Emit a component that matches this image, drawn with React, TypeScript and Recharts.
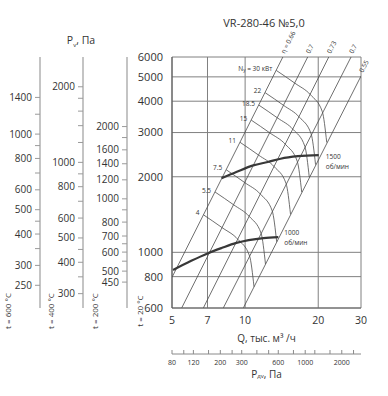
import React from "react";
import { CartesianGrid, LabelList, Line, LineChart, XAxis, YAxis } from "recharts";

const FONT = '"Open Sans", "DejaVu Sans", sans-serif';
const INK = "#333333";
const GRID = "#808080";
const MESH = "#4a4a4a";
const CURVE = "#383838";
const SCALE = "#c4c4c4";

// main axes (t = 20 °C)
const qTicks = [5, 7, 10, 20, 30];
const pTicks = [600, 800, 1000, 2000, 3000, 4000, 5000, 6000];

// side pressure scales for hot air
const t200Ticks = [450, 500, 550, 600, 650, 700, 800, 900, 1000, 1200, 1400, 1600, 1800, 2000];
const t200Labels = [450, 500, 600, 700, 800, 1000, 1200, 1400, 1600, 2000];
const t400Ticks = [300, 350, 400, 450, 500, 600, 700, 800, 900, 1000, 1200, 1400, 1600, 1800, 2000];
const t400Labels = [300, 400, 500, 600, 800, 1000, 2000];
const t600Ticks = [250, 300, 350, 400, 450, 500, 600, 700, 800, 900, 1000, 1200, 1400];
const t600Labels = [250, 300, 400, 500, 600, 800, 1000, 1400];

// dynamic pressure scale under the chart
const pdvTicks = [80, 100, 120, 160, 200, 250, 300, 400, 500, 600, 800, 1000, 1200, 1600, 2000, 2500];
const pdvLabels = [80, 120, 200, 300, 600, 1000, 2000];

type Pt = { q: number; p: number };

// fan curves
const rpm1500: Pt[] = [
  { q: 8.0, p: 1975 },
  { q: 9.2, p: 2090 },
  { q: 10.8, p: 2220 },
  { q: 12.4, p: 2290 },
  { q: 14.0, p: 2360 },
  { q: 16.5, p: 2415 },
  { q: 20.1, p: 2440 },
];
const rpm1000: Pt[] = [
  { q: 5.05, p: 850 },
  { q: 6.0, p: 925 },
  { q: 7.0, p: 990 },
  { q: 8.0, p: 1040 },
  { q: 9.2, p: 1090 },
  { q: 11.9, p: 1140 },
  { q: 13.7, p: 1150 },
];

// efficiency rays
const eta066: Pt[] = [{ q: 5, p: 795 }, { q: 14.3, p: 6000 }];
const eta070a: Pt[] = [{ q: 5.48, p: 600 }, { q: 18.1, p: 6000 }];
const eta073: Pt[] = [{ q: 6.73, p: 600 }, { q: 22.1, p: 6000 }];
const eta070b: Pt[] = [{ q: 8.13, p: 600 }, { q: 27.3, p: 6000 }];
const eta055: Pt[] = [{ q: 9.83, p: 600 }, { q: 30, p: 5036 }];

// shaft power lines, kW
const n4: Pt[] = [{ q: 6.74, p: 1410 }, { q: 8.04, p: 1254 }, { q: 9.34, p: 1126 }, { q: 10.43, p: 967 }, { q: 10.88, p: 729 }];
const n5_5: Pt[] = [{ q: 7.52, p: 1739 }, { q: 8.97, p: 1546 }, { q: 10.41, p: 1388 }, { q: 11.63, p: 1192 }, { q: 12.13, p: 898 }];
const n7_5: Pt[] = [{ q: 8.36, p: 2132 }, { q: 9.97, p: 1895 }, { q: 11.58, p: 1702 }, { q: 12.93, p: 1462 }, { q: 13.49, p: 1101 }];
const n11: Pt[] = [{ q: 9.53, p: 2743 }, { q: 11.37, p: 2438 }, { q: 13.2, p: 2189 }, { q: 14.74, p: 1881 }, { q: 15.38, p: 1417 }];
const n15: Pt[] = [{ q: 10.6, p: 3362 }, { q: 12.65, p: 2989 }, { q: 14.69, p: 2685 }, { q: 16.39, p: 2306 }, { q: 17.1, p: 1737 }];
const n18_5: Pt[] = [{ q: 11.39, p: 3859 }, { q: 13.59, p: 3431 }, { q: 15.78, p: 3083 }, { q: 17.61, p: 2647 }, { q: 18.37, p: 1994 }];
const n22: Pt[] = [{ q: 12.09, p: 4325 }, { q: 14.42, p: 3846 }, { q: 16.74, p: 3452 }, { q: 18.69, p: 2967 }, { q: 19.5, p: 2235 }];
const n30: Pt[] = [{ q: 13.44, p: 5304 }, { q: 16.04, p: 4716 }, { q: 18.62, p: 4234 }, { q: 20.78, p: 3638 }, { q: 21.68, p: 2739 }];

const etaLines = [
  { name: "η = 0.66", pts: eta066 },
  { name: "0.7", pts: eta070a },
  { name: "0.73", pts: eta073 },
  { name: "0.7 ", pts: eta070b },
  { name: "0.55", pts: eta055 },
];

const powerLines = [
  { name: "4", pts: n4 },
  { name: "5.5", pts: n5_5 },
  { name: "7.5", pts: n7_5 },
  { name: "11", pts: n11 },
  { name: "15", pts: n15 },
  { name: "18.5", pts: n18_5 },
  { name: "22", pts: n22 },
  { name: "30", pts: n30 },
];

const small = { fontFamily: FONT, fontSize: 6.5, fill: INK };

function pos(props: any) {
  const vb = props.viewBox || {};
  return { x: vb.x ?? props.x, y: vb.y ?? props.y };
}

function tempCaption(text: string) {
  return (props: any) => {
    const vb = props.viewBox;
    const x = vb.x + vb.width - 33;
    const y = 311;
    return (
      <text x={x} y={y} transform={`rotate(-90 ${x} ${y})`} textAnchor="middle" dominantBaseline="central"
        style={{ fontFamily: FONT, fontSize: 8, fill: INK }}>
        {text}
      </text>
    );
  };
}

function sideAxis(id: string, width: number, domain: number[], ticks: number[], labels: number[], caption: string) {
  return (
    <YAxis
      yAxisId={id}
      orientation="left"
      type="number"
      scale="log"
      domain={domain}
      allowDataOverflow
      ticks={ticks}
      interval={0}
      width={width}
      tickSize={5}
      tickMargin={3}
      axisLine={{ stroke: SCALE, strokeWidth: 2 }}
      tickLine={{ stroke: "#9a9a9a" }}
      tick={{ fontFamily: FONT, fontSize: 10, fill: INK }}
      tickFormatter={(v: number) => (labels.includes(v) ? String(v) : "")}
      label={{ content: tempCaption(caption) }}
    />
  );
}

function renderPdvTick(props: any) {
  const { x, y, payload, index } = props;
  const v = payload.value;
  return (
    <g key={`pdv-${index}`}>
      <line x1={x} x2={x} y1={y} y2={y - 4} stroke="#8a8a8a" />
      {pdvLabels.includes(v) && (
        <text x={x} y={y + 8.5} textAnchor="middle" dominantBaseline="central" style={{ fontFamily: FONT, fontSize: 7, fill: INK }}>
          {v}
        </text>
      )}
    </g>
  );
}

export default function App() {
  return (
    <div style={{ position: "absolute", left: 0, top: 0, width: 388, height: 396, background: "#fff" }}>
      <div style={{ position: "absolute", left: 264, top: 22, transform: "translate(-50%, -50%)", fontFamily: FONT, fontSize: 11, color: INK, whiteSpace: "nowrap" }}>
        VR-280-46 №5,0
      </div>
      <div style={{ position: "absolute", left: 81, top: 41, transform: "translate(-50%, -50%)", fontFamily: FONT, fontSize: 10.5, color: INK, whiteSpace: "nowrap" }}>
        P<sub style={{ fontSize: 6 }}>v</sub>, Па
      </div>
      <LineChart width={388} height={396} margin={{ top: 57, right: 27, bottom: 8, left: 4 }}>
        <CartesianGrid stroke={GRID} strokeWidth={1} />
        <XAxis
          type="number"
          dataKey="q"
          scale="log"
          domain={[5, 30]}
          allowDataOverflow
          ticks={qTicks}
          interval={0}
          height={46}
          tickSize={0}
          tickMargin={9}
          tickLine={false}
          axisLine={{ stroke: "#666" }}
          tick={{ fontFamily: FONT, fontSize: 10.5, fill: INK }}
          label={{
            content: (props: any) => {
              const vb = props.viewBox;
              return (
                <text x={vb.x + vb.width / 2} y={vb.y + 30} textAnchor="middle" dominantBaseline="central" style={{ fontFamily: FONT, fontSize: 10, fill: INK }}>
                  Q, тыс. м³ /ч
                </text>
              );
            },
          }}
        />
        <XAxis
          xAxisId="pdv"
          type="number"
          dataKey="q"
          scale="log"
          domain={[80, 2880]}
          allowDataOverflow
          ticks={pdvTicks}
          interval={0}
          height={34}
          tickSize={0}
          tickMargin={0}
          tickLine={false}
          axisLine={{ stroke: "#8a8a8a" }}
          tick={renderPdvTick}
          label={{
            content: (props: any) => {
              const vb = props.viewBox;
              return (
                <text x={vb.x + vb.width / 2} y={vb.y + 20} textAnchor="middle" dominantBaseline="central" style={{ fontFamily: FONT, fontSize: 10, fill: INK }}>
                  P<tspan fontSize={6} dy={2}>дv</tspan><tspan dy={-2}>, Па</tspan>
                </text>
              );
            },
          }}
        />
        <YAxis
          type="number"
          dataKey="p"
          scale="log"
          domain={[600, 6000]}
          allowDataOverflow
          ticks={pTicks}
          interval={0}
          width={45}
          tickSize={0}
          tickMargin={9}
          tickLine={false}
          axisLine={{ stroke: "#555" }}
          tick={{ fontFamily: FONT, fontSize: 11, fill: INK }}
          label={{ content: tempCaption("t = 20 °C") }}
        />
        {sideAxis("t200", 44, [351, 3898], t200Ticks, t200Labels, "t = 200 °C")}
        {sideAxis("t400", 43, [263, 2628], t400Ticks, t400Labels, "t = 400 °C")}
        {sideAxis("t600", 36, [203, 2028], t600Ticks, t600Labels, "t = 600 °C")}

        {etaLines.map((e) => (
          <Line key={e.name} data={e.pts} dataKey="p" type="linear" stroke={MESH} strokeWidth={0.8}
            dot={false} activeDot={false} isAnimationActive={false}>
            <LabelList
              dataKey="p"
              content={(props: any) => {
                if (props.index !== e.pts.length - 1) return null;
                const { x, y } = pos(props);
                const tx = x + 2;
                const ty = y - 3;
                return (
                  <text x={tx} y={ty} transform={`rotate(-63 ${tx} ${ty})`} style={small}>
                    {e.name}
                  </text>
                );
              }}
            />
          </Line>
        ))}

        {powerLines.map((n) => (
          <Line key={n.name} data={n.pts} dataKey="p" type="monotone" stroke={MESH} strokeWidth={0.8}
            dot={false} activeDot={false} isAnimationActive={false}>
            <LabelList
              dataKey="p"
              content={(props: any) => {
                if (props.index !== 0) return null;
                const { x, y } = pos(props);
                return (
                  <text x={x - 4} y={y - 2} textAnchor="end" dominantBaseline="central" style={small}>
                    {n.name === "30" ? (
                      <>
                        N<tspan fontSize={4.5} dy={1.5}>у</tspan>
                        <tspan dy={-1.5}> = 30 кВт</tspan>
                      </>
                    ) : (
                      n.name
                    )}
                  </text>
                );
              }}
            />
          </Line>
        ))}

        <Line data={rpm1500} dataKey="p" type="monotone" stroke={CURVE} strokeWidth={2.2}
          dot={false} activeDot={false} isAnimationActive={false}>
          <LabelList
            dataKey="p"
            content={(props: any) => {
              if (props.index !== rpm1500.length - 1) return null;
              const { x, y } = pos(props);
              return (
                <text x={x + 7} y={y + 1} dominantBaseline="central" style={small}>
                  <tspan x={x + 7}>1500</tspan>
                  <tspan x={x + 7} dy={10}>об/мин</tspan>
                </text>
              );
            }}
          />
        </Line>
        <Line data={rpm1000} dataKey="p" type="monotone" stroke={CURVE} strokeWidth={2.2}
          dot={false} activeDot={false} isAnimationActive={false}>
          <LabelList
            dataKey="p"
            content={(props: any) => {
              if (props.index !== rpm1000.length - 1) return null;
              const { x, y } = pos(props);
              return (
                <text x={x + 6} y={y - 5} dominantBaseline="central" style={small}>
                  <tspan x={x + 6}>1000</tspan>
                  <tspan x={x + 6} dy={10}>об/мин</tspan>
                </text>
              );
            }}
          />
        </Line>
      </LineChart>
    </div>
  );
}
